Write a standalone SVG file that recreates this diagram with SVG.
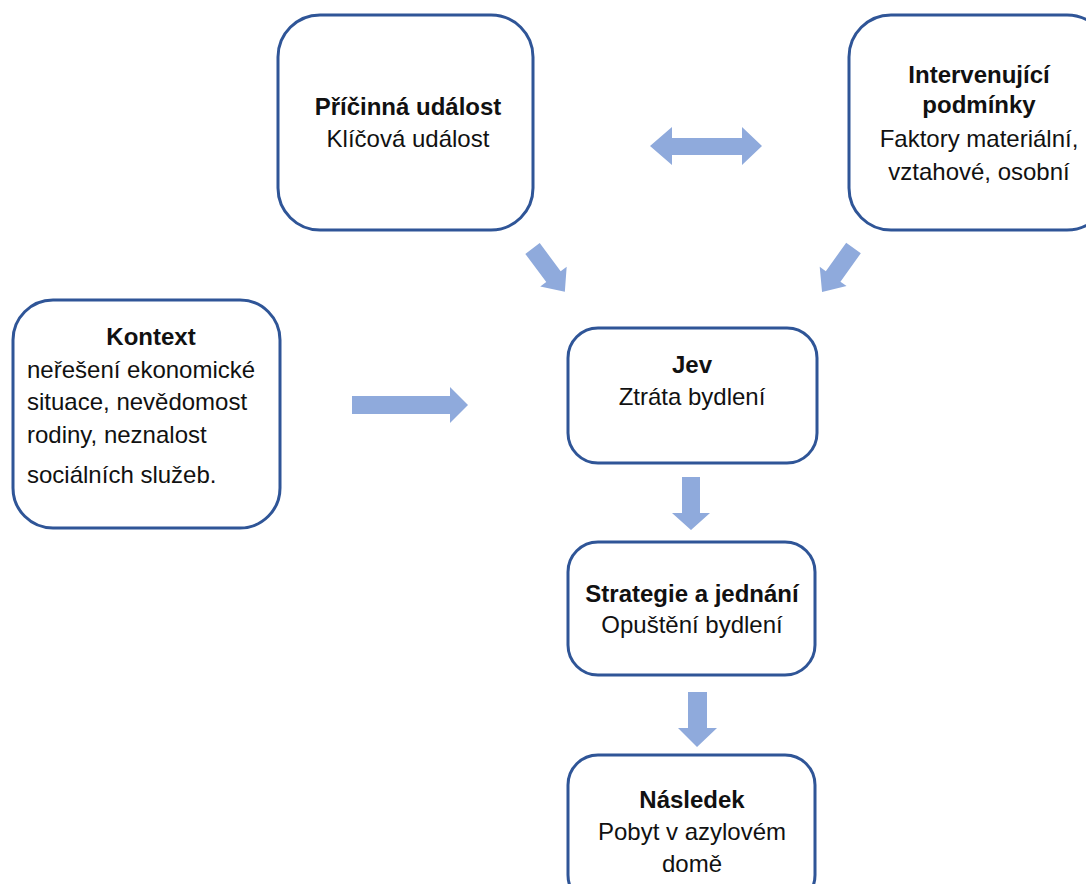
<svg xmlns="http://www.w3.org/2000/svg" width="1086" height="884" viewBox="0 0 1086 884">
  <defs>
    <style>
      .box { fill: #ffffff; stroke: #2F5597; stroke-width: 3; }
      .t { font-family: "Liberation Sans", Arial, sans-serif; font-size: 24px; fill: #111111; }
      .b { font-weight: bold; }
      .c { text-anchor: middle; }
      .arr { fill: #8FAADC; }
    </style>
    <polygon id="diag" points="0,-9 35,-9 35,-16.5 54,0 35,16.5 35,9 0,9"/>
  </defs>
  <rect width="1086" height="884" fill="#ffffff"/>

  <g id="connectors">
    <!-- double arrow -->
    <polygon class="arr" points="650,146 672,127 672,138 742,138 742,127 762,146 742,165 742,155 672,155 672,165"/>
    <!-- diagonal arrows -->
    <use href="#diag" class="arr" transform="translate(532.5,248.5) rotate(53.2)"/>
    <use href="#diag" class="arr" transform="translate(853.5,248) rotate(125.6)"/>
    <!-- horizontal arrow Kontext -> Jev -->
    <polygon class="arr" points="352,396 450,396 450,387 468,405 450,423 450,414 352,414"/>
    <!-- down arrow Jev -> Strategie -->
    <polygon class="arr" points="682,477 700,477 700,513 710,513 691,530 672,513 682,513"/>
    <!-- down arrow Strategie -> Nasledek -->
    <polygon class="arr" points="688,692 707,692 707,728 717,728 697,747 678,728 688,728"/>
  </g>

  <g id="pricinna">
    <rect class="box" x="278" y="15" width="255" height="215" rx="42" ry="42"/>
    <text class="t b c" x="408" y="115">Příčinná událost</text>
    <text class="t c" x="408" y="147">Klíčová událost</text>
  </g>

  <g id="intervenujici">
    <rect class="box" x="849" y="15" width="260" height="215" rx="42" ry="42"/>
    <text class="t b c" x="979" y="83">Intervenující</text>
    <text class="t b c" x="979" y="113">podmínky</text>
    <text class="t c" x="979" y="147">Faktory materiální,</text>
    <text class="t c" x="979" y="180">vztahové, osobní</text>
  </g>

  <g id="kontext">
    <rect class="box" x="13" y="300" width="267" height="228" rx="40" ry="40"/>
    <text class="t b c" x="151" y="345">Kontext</text>
    <text class="t" x="27" y="378">neřešení ekonomické</text>
    <text class="t" x="27" y="410">situace, nevědomost</text>
    <text class="t" x="27" y="443">rodiny, neznalost</text>
    <text class="t" x="27" y="483">sociálních služeb.</text>
  </g>

  <g id="jev">
    <rect class="box" x="568" y="328" width="249" height="135" rx="30" ry="30"/>
    <text class="t b c" x="692" y="373">Jev</text>
    <text class="t c" x="692" y="405">Ztráta bydlení</text>
  </g>

  <g id="strategie">
    <rect class="box" x="568" y="542" width="247" height="133" rx="30" ry="30"/>
    <text class="t b c" x="692" y="602">Strategie a jednání</text>
    <text class="t c" x="692" y="633">Opuštění bydlení</text>
  </g>

  <g id="nasledek">
    <rect class="box" x="568" y="755" width="247" height="150" rx="30" ry="30"/>
    <text class="t b c" x="692" y="808">Následek</text>
    <text class="t c" x="692" y="840">Pobyt v azylovém</text>
    <text class="t c" x="692" y="872">domě</text>
  </g>
</svg>
